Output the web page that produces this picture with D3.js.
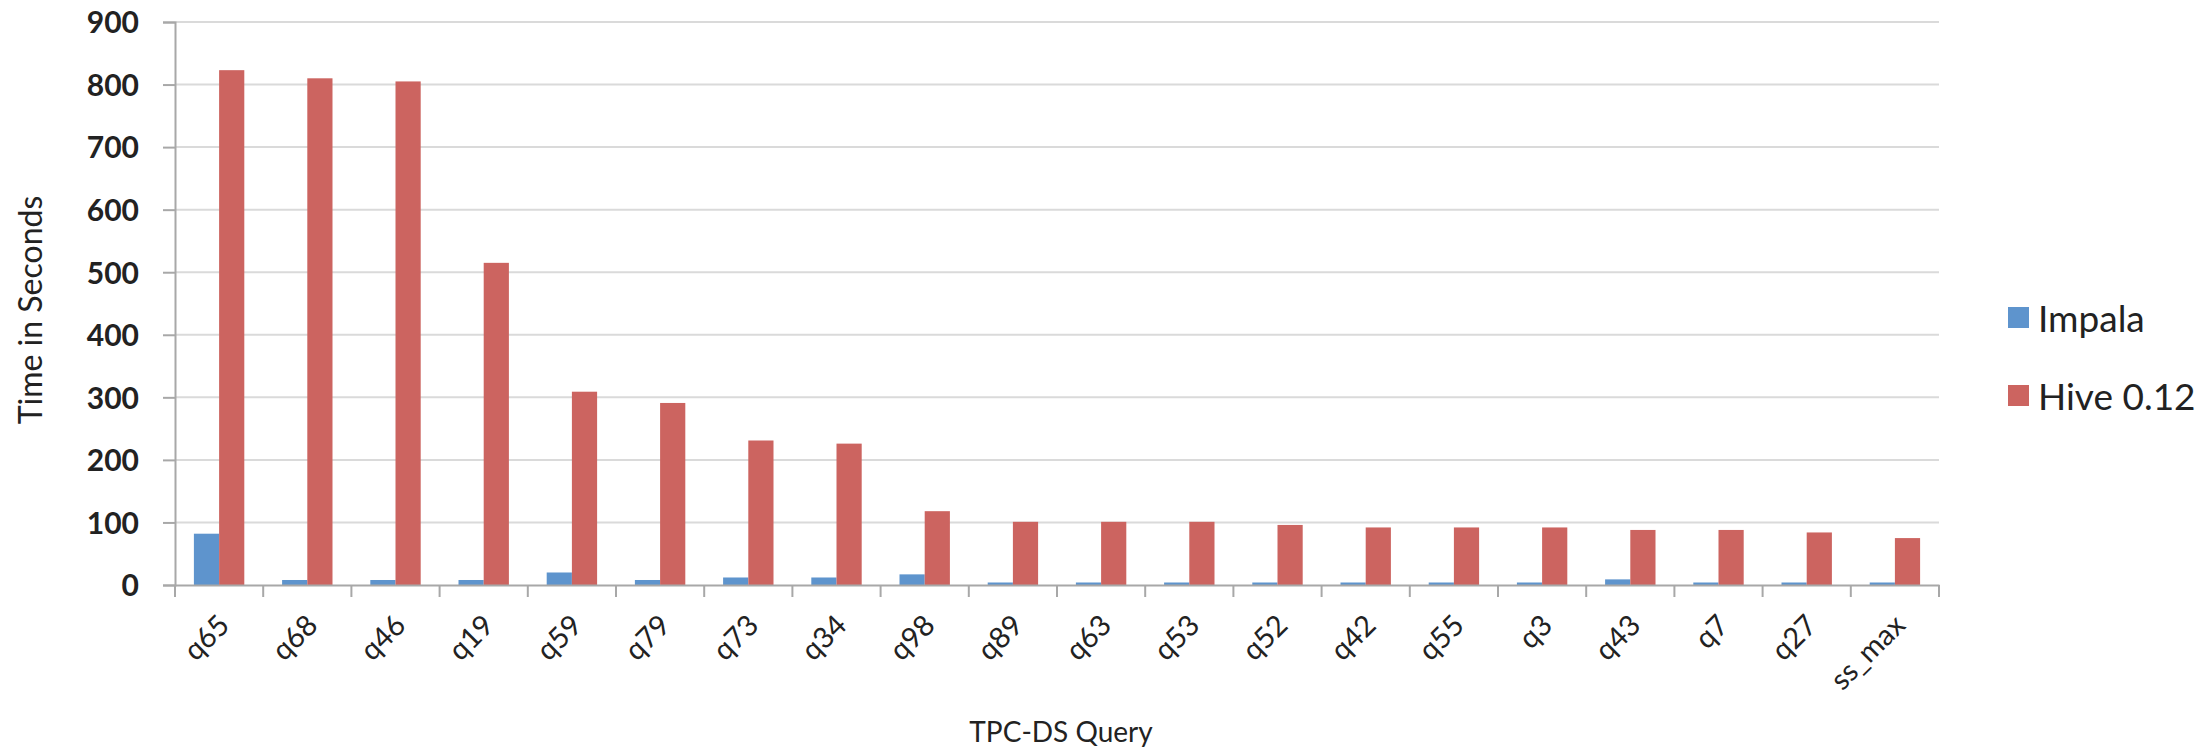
<!DOCTYPE html>
<html>
<head>
<meta charset="utf-8">
<script src="https://cdn.jsdelivr.net/npm/d3@7"></script>
<style>
  html, body { margin: 0; padding: 0; background: #ffffff; }
  svg { display: block; }
  text { font-family: Lato, "Open Sans", sans-serif; fill: #222; }
</style>
</head>
<body>
<svg id="chart" width="2211" height="751"></svg>
<script>
const categories = ["q65","q68","q46","q19","q59","q79","q73","q34","q98","q89","q63","q53","q52","q42","q55","q3","q43","q7","q27","ss_max"];
const seriesNames = ["Impala", "Hive 0.12"];
const impala = [82, 8, 8, 8, 20, 8, 12, 12, 17, 4, 4, 4, 4, 4, 4, 4, 9, 4, 4, 4];
const hive = [823, 810, 805, 515, 309, 291, 231, 226, 118, 101, 101, 101, 96, 92, 92, 92, 88, 88, 84, 75];
const yTicks = [0, 100, 200, 300, 400, 500, 600, 700, 800, 900];
const colors = ["#5e94cd", "#cc6460"];

const svg = d3.select("#chart");
const plotLeft = 175, plotRight = 1939, plotTop = 22, plotBottom = 585;

const y = d3.scaleLinear().domain([0, 900]).range([plotBottom, plotTop]);
const xCat = d3.scaleBand().domain(categories).range([plotLeft, plotRight]).padding(0);
const gap = 1.5 / 3.5;
const xGroup = d3.scaleBand().domain(categories).range([plotLeft, plotRight])
  .paddingInner(gap).paddingOuter(gap / 2);
const xSeries = d3.scaleBand().domain(seriesNames).range([0, xGroup.bandwidth()]);

// gridlines
svg.append("g").selectAll("line").data(yTicks.filter(d => d > 0)).join("line")
  .attr("x1", plotLeft).attr("x2", plotRight)
  .attr("y1", d => y(d)).attr("y2", d => y(d))
  .attr("stroke", "#dadada").attr("stroke-width", 2);

// y axis
const yAxis = d3.axisLeft(y).tickValues(yTicks).tickSize(12).tickPadding(24).tickFormat(d3.format("d"));
const gy = svg.append("g").attr("transform", `translate(${plotLeft},0)`).call(yAxis);
gy.select(".domain").attr("stroke", "#a8a8a8").attr("stroke-width", 2);
gy.selectAll(".tick line").attr("stroke", "#a8a8a8").attr("stroke-width", 2);
gy.selectAll(".tick text").style("font-size", "30px").style("font-weight", "bold")
  .style("font-family", "Lato, sans-serif")
  .attr("fill", "#1e1e1e").attr("dy", "0.36em");

// bars
const data = categories.map((c, i) => ({cat: c, vals: [impala[i], hive[i]]}));
const groups = svg.append("g").selectAll("g").data(data).join("g")
  .attr("transform", d => `translate(${xGroup(d.cat)},0)`);
groups.selectAll("rect").data(d => d.vals.map((v, j) => ({name: seriesNames[j], v, j}))).join("rect")
  .attr("x", d => xSeries(d.name))
  .attr("width", xSeries.bandwidth())
  .attr("y", d => y(d.v))
  .attr("height", d => y(0) - y(d.v))
  .attr("fill", d => colors[d.j]);

// x axis
const xAxis = d3.axisBottom(xCat).tickSize(0).tickFormat("");
const gx = svg.append("g").attr("transform", `translate(0,${plotBottom})`).call(xAxis);
gx.select(".domain").attr("stroke", "#a8a8a8").attr("stroke-width", 2);
// boundary ticks
const bounds = categories.map(c => xCat(c)).concat([plotRight]);
svg.append("g").selectAll("line").data(bounds).join("line")
  .attr("x1", d => d).attr("x2", d => d)
  .attr("y1", plotBottom).attr("y2", plotBottom + 12)
  .attr("stroke", "#a8a8a8").attr("stroke-width", 2);

// x labels
svg.append("g").selectAll("text").data(categories).join("text")
  .attr("transform", d => `translate(${xCat(d) + xCat.bandwidth() / 2 + 12},${plotBottom + 42}) rotate(-45)`)
  .attr("text-anchor", "end")
  .style("font-size", "29px")
  .attr("fill", "#1e1e1e")
  .text(d => d);

// axis titles
svg.append("text")
  .attr("transform", `translate(42,310) rotate(-90)`)
  .attr("text-anchor", "middle")
  .style("font-size", "32px")
  .attr("fill", "#333")
  .text("Time in Seconds");
svg.append("text")
  .attr("x", (plotLeft + plotRight) / 2 + 4).attr("y", 742)
  .attr("text-anchor", "middle")
  .style("font-size", "28px")
  .attr("fill", "#333")
  .text("TPC-DS Query");

// legend
const legend = svg.append("g").selectAll("g").data(seriesNames).join("g")
  .attr("transform", (d, i) => `translate(2008,${307 + i * 78})`);
legend.append("rect").attr("width", 21).attr("height", 21).attr("fill", (d, i) => colors[i]);
legend.append("text").attr("x", 30).attr("y", 25)
  .style("font-size", "37px").attr("fill", "#1e1e1e").text(d => d);
</script>
</body>
</html>
